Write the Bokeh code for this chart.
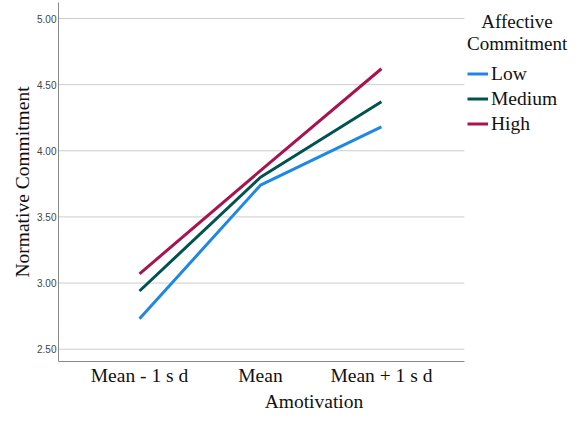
from bokeh.plotting import figure
from bokeh.models import Range1d, FixedTicker, PrintfTickFormatter, Legend, LegendItem
from bokeh.embed import file_html
from bokeh.resources import INLINE

categories = ["Mean - 1 s d", "Mean", "Mean + 1 s d"]
series_names = ["Low", "Medium", "High"]
low = [2.73, 3.74, 4.18]
medium = [2.94, 3.80, 4.37]
high = [3.07, 3.85, 4.62]
y_ticks = [2.5, 3.0, 3.5, 4.0, 4.5, 5.0]
colors = ["#1e88e5", "#01534f", "#a8154e"]
legend_title = "\u00a0\u00a0\u00a0Affective\nCommitment"

SERIF = "Liberation Serif"

xs = list(range(len(categories)))
X0, X1, XR = -0.67, 2.686, 3.555   # axis start, axis end, canvas right (legend room)
Y0, Y1 = 2.407, 5.121

p = figure(width=569, height=414, output_backend="svg", toolbar_location=None,
           x_range=Range1d(X0, XR), y_range=Range1d(Y0, Y1),
           min_border_left=58, min_border_right=0, min_border_top=2, min_border_bottom=50)
p.outline_line_color = None
p.background_fill_color = "white"
p.border_fill_color = "white"

# horizontal grid lines, limited to the axis extent
p.segment(x0=[X0] * len(y_ticks), x1=[X1] * len(y_ticks), y0=y_ticks, y1=y_ticks,
          line_color="#cccccc", line_width=1)

renderers = []
for name, vals, c in zip(series_names, [low, medium, high], colors):
    r = p.line(xs, vals, line_color=c, line_width=3)
    renderers.append((name, r))

p.xgrid.grid_line_color = None
p.ygrid.grid_line_color = None
p.xaxis.ticker = FixedTicker(ticks=xs)
p.xaxis.major_label_overrides = {i: c for i, c in zip(xs, categories)}
p.xaxis.bounds = (X0, X1)
p.yaxis.ticker = FixedTicker(ticks=y_ticks)
p.yaxis.formatter = PrintfTickFormatter(format="%.2f")
for ax in (p.xaxis[0], p.yaxis[0]):
    ax.axis_line_color = "#888888"
    ax.axis_line_width = 1
    ax.major_tick_line_color = None
    ax.minor_tick_line_color = None
    ax.major_tick_out = 0
    ax.major_tick_in = 0
    ax.minor_tick_out = 0
    ax.minor_tick_in = 0
    ax.axis_label_text_font = SERIF
    ax.axis_label_text_font_style = "normal"
    ax.axis_label_text_font_size = "19.5px"
    ax.axis_label_text_color = "#111111"

p.yaxis.major_label_text_font = "Liberation Sans"
p.yaxis.major_label_text_font_size = "10px"
p.yaxis.major_label_text_color = "#444444"
p.yaxis.major_label_standoff = 2
p.yaxis.axis_label = "Normative Commitment"
p.yaxis.axis_label_standoff = 1

p.xaxis.major_label_text_font = SERIF
p.xaxis.major_label_text_font_size = "19.5px"
p.xaxis.major_label_text_color = "#111111"
p.xaxis.major_label_standoff = 3
p.xaxis.axis_label = "Amotivation"
p.xaxis.axis_label_standoff = 2

legend = Legend(items=[LegendItem(label=n, renderers=[r]) for n, r in renderers],
                location=(409, 225), orientation="vertical",
                title=legend_title, title_text_font=SERIF, title_text_font_size="19px",
                title_text_font_style="normal", title_text_color="#111111",
                title_text_line_height=0.95, title_standoff=6,
                glyph_width=21, glyph_height=25, label_height=25, label_standoff=3,
                spacing=0, padding=0, margin=0,
                label_text_font=SERIF, label_text_font_size="19.5px",
                label_text_color="#111111",
                background_fill_alpha=0, border_line_color=None)
p.add_layout(legend, "center")

open("out.html", "w").write(file_html(p, INLINE))
